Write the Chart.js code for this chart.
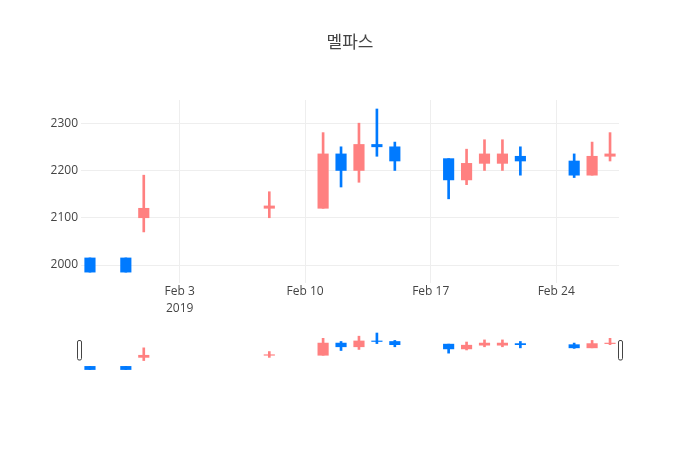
<!DOCTYPE html>
<html>
<head>
<meta charset="utf-8">
<script src="https://cdn.jsdelivr.net/npm/chart.js@4"></script>
<style>
html,body{margin:0;padding:0;background:#fff}
#wrap{position:relative;width:700px;height:450px}
canvas{position:absolute;left:0;top:0}
</style>
</head>
<body>
<div id="wrap">
<canvas id="main" width="700" height="450"></canvas>
<canvas id="slider" width="700" height="450"></canvas>
</div>
<script>
const chartTitle = '멜파스';
const dates = ['2019-01-29','2019-01-31','2019-02-01','2019-02-08','2019-02-11','2019-02-12','2019-02-13','2019-02-14','2019-02-15','2019-02-18','2019-02-19','2019-02-20','2019-02-21','2019-02-22','2019-02-25','2019-02-26','2019-02-27'];
const openVals  = [2015,2015,2100,2120,2120,2235,2200,2255,2250,2225,2180,2215,2215,2230,2220,2190,2230];
const highVals  = [2015,2015,2190,2155,2280,2250,2300,2330,2260,2225,2245,2265,2265,2250,2235,2260,2280];
const lowVals   = [1985,1985,2070,2100,2120,2165,2175,2230,2200,2140,2170,2200,2200,2190,2185,2190,2220];
const closeVals = [1985,1985,2120,2125,2235,2200,2255,2250,2220,2180,2215,2235,2235,2220,2190,2230,2235];
const xTickDates = ['2019-02-03','2019-02-10','2019-02-17','2019-02-24'];
const xTickLabels = [['Feb 3','2019'],'Feb 10','Feb 17','Feb 24'];
const yTicks = [2000,2100,2200,2300];
const yMin = 1962, yMax = 2349;

const upColor = 'rgb(255,128,128)';
const downColor = 'rgb(0,122,255)';
const FONT = "'Open Sans','Noto Sans CJK KR',sans-serif";

const base = Date.UTC(2019,1,3);
const dayOf = s => (Date.parse(s + 'T00:00:00Z') - base) / 86400000;
const xs = dates.map(dayOf);
const colors = openVals.map((o,i) => closeVals[i] >= o ? upColor : downColor);
const xMin = xs[0] - 0.5, xMax = xs[xs.length-1] + 0.5;
const xTickVals = xTickDates.map(dayOf);

function makeDatasets(wickW, bodyW){
  return [
    {type:'bar', data: xs.map((x,i)=>({x:x, y:[lowVals[i], highVals[i]]})),
     backgroundColor: colors, barThickness: wickW, grouped:false, order:1, borderWidth:0},
    {type:'bar', data: xs.map((x,i)=>({x:x, y:[openVals[i], closeVals[i]]})),
     backgroundColor: colors, barThickness: bodyW, grouped:false, order:0, borderWidth:0}
  ];
}

Chart.defaults.font.family = FONT;
Chart.defaults.color = '#444';

new Chart(document.getElementById('main'), {
  type:'bar',
  data:{ datasets: makeDatasets(2, 10.5) },
  options:{
    responsive:false, animation:false,
    layout:{ padding:{left:0, right:0, top:0, bottom:127} },
    plugins:{
      legend:{display:false}, tooltip:{enabled:false},
      title:{display:true, text:chartTitle, color:'#444',
        font:{family:FONT, size:17, weight:'normal', lineHeight:1.2},
        padding:{top:32.5, bottom:47.1}}
    },
    scales:{
      x:{type:'linear', min:xMin, max:xMax, offset:false,
        grid:{color:'#eee', offset:false, drawTicks:false}, border:{display:false},
        afterBuildTicks: s => { s.ticks = xTickVals.map(v=>({value:v})); },
        afterFit: s => { s.height = 40; },
        ticks:{ padding:0, maxRotation:0, autoSkip:false, color:'#444', font:{size:12, family:FONT, lineHeight:1.4},
          callback: (v) => { const i = xTickVals.indexOf(v); return i >= 0 ? xTickLabels[i] : ''; } }
      },
      y:{min:yMin, max:yMax,
        grid:{color:'#eee', drawTicks:false}, border:{display:false},
        afterBuildTicks: s => { s.ticks = yTicks.map(v=>({value:v})); },
        afterFit: s => { s.width = 81; },
        ticks:{ padding:3, color:'#444', font:{size:12, family:FONT}, callback: v => String(v) }
      },
      yRight:{position:'right', min:yMin, max:yMax,
        grid:{display:false, drawTicks:false}, border:{display:false},
        ticks:{display:false},
        afterFit: s => { s.width = 81; }
      }
    }
  }
});

const grabbers = {
  id:'grabbers',
  afterDraw(chart){
    const ctx = chart.ctx, a = chart.chartArea;
    ctx.save();
    ctx.fillStyle = '#fff';
    ctx.strokeStyle = '#444';
    ctx.lineWidth = 1;
    [a.left - 3.5, a.right - 0.5].forEach(x => {
      ctx.beginPath();
      if (ctx.roundRect) ctx.roundRect(x, 340.5, 4, 19.5, 1.5); else ctx.rect(x, 340.5, 4, 19.5);
      ctx.fill(); ctx.stroke();
    });
    ctx.restore();
  }
};

new Chart(document.getElementById('slider'), {
  type:'bar',
  data:{ datasets: makeDatasets(2, 10.5) },
  options:{
    responsive:false, animation:false,
    layout:{ padding:{left:81, right:81, top:331, bottom:78} },
    plugins:{ legend:{display:false}, tooltip:{enabled:false} },
    scales:{
      x:{type:'linear', display:false, min:xMin, max:xMax, offset:false},
      y:{display:false, min:yMin, max:yMax}
    }
  },
  plugins:[grabbers]
});
</script>
</body>
</html>
